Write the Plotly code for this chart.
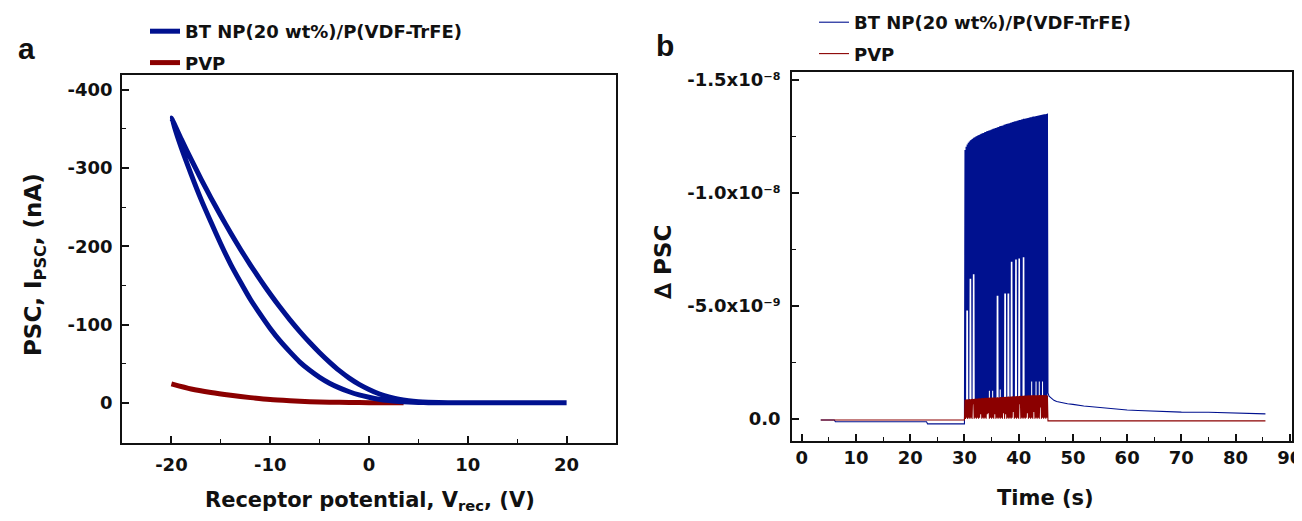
import numpy as np
import plotly.graph_objects as go

FONT = "DejaVu Sans, Liberation Sans, Arial, sans-serif"
LETTER_FONT = "Liberation Sans, Arial, sans-serif"
BLUE = "#00118f"
RED = "#8b0000"
INK = "#111111"

# ---------------- Panel a : PSC vs receptor potential ----------------
# BT NP(20 wt%)/P(VDF-TrFE): sweep -20 -> +20 V (outer branch)
bt_up_v = [-20, -19, -18, -17, -16, -15, -14, -13, -12, -11, -10, -9, -8, -7, -6, -5,
           -4, -3, -2, -1, 0, 1, 2, 3, 4, 5, 6, 8, 12, 16, 20]
bt_up_i = [-364, -337, -311, -286, -262, -239, -217, -196, -176, -157, -139, -122, -106, -91, -77, -64,
           -52, -41, -31.5, -23.5, -17, -11.5, -7.5, -4.5, -2.5, -1.2, -0.5, 0, 0, 0, 0]
# sweep +20 -> -20 V (inner branch)
bt_dn_v = [20, 16, 12, 8, 6, 5, 4, 3, 2, 1, 0, -1, -2, -3, -4, -5, -6, -7, -8, -9,
           -10, -11, -12, -13, -14, -15, -16, -17, -18, -19, -20]
bt_dn_i = [0, 0, 0, 0, 0, -0.3, -0.8, -1.6, -2.8, -4.5, -7, -10, -14, -19, -25, -32.5, -41.5, -52, -65, -79,
           -95, -113, -132, -154, -177, -203, -231, -260, -292, -326, -364]

# PVP
pvp_v = [-20, -18, -16, -14, -12, -10, -8, -6, -4, -2, 0, 2, 3.5]
pvp_i = [-24, -17.5, -13, -9.5, -6.5, -4.0, -2.5, -1.3, -0.7, -0.3, 0.0, 0.0, 0.0]

x_ticks_a = [-20, -10, 0, 10, 20]
x_ticktext_a = ["-20", "-10", "0", "10", "20"]
y_ticks_a = [-400, -300, -200, -100, 0]
y_ticktext_a = ["-400", "-300", "-200", "-100", "0"]

# ---------------- Panel b : delta PSC vs time (values in 1e-9 A) ----------------
bt_pre_t = [3.5, 6.0, 6.2, 23.0, 23.2, 29.9]
bt_pre_v = [0.05, 0.05, 0.13, 0.13, 0.22, 0.22]

pulse_t = [30.0, 30.2, 30.4, 30.6, 30.8, 31.0, 31.2, 31.4, 31.6, 31.8,
           32.0, 32.2, 32.4, 32.6, 32.8, 33.0, 33.2, 33.4, 33.6, 33.8,
           34.0, 34.2, 34.4, 34.6, 34.8, 35.0, 35.2, 35.4, 35.6, 35.8,
           36.0, 36.2, 36.4, 36.6, 36.8, 37.0, 37.2, 37.4, 37.6, 37.8,
           38.0, 38.2, 38.4, 38.6, 38.8, 39.0, 39.2, 39.4, 39.6, 39.8,
           40.0, 40.2, 40.4, 40.6, 40.8, 41.0, 41.2, 41.4, 41.6, 41.8,
           42.0, 42.2, 42.4, 42.6, 42.8, 43.0, 43.2, 43.4, 43.6, 43.8,
           44.0, 44.2, 44.4, 44.6, 44.8, 45.0, 45.2]
PULSE_HALF = 0.1

bt_peak = [-11.90, -12.05, -12.15, -12.22, -12.28, -12.33, -12.37, -12.40, -12.44, -12.47,
           -12.50, -12.52, -12.55, -12.57, -12.60, -12.62, -12.64, -12.66, -12.69, -12.70,
           -12.73, -12.74, -12.77, -12.78, -12.80, -12.82, -12.84, -12.85, -12.88, -12.89,
           -12.91, -12.92, -12.95, -12.96, -12.98, -12.99, -13.02, -13.03, -13.05, -13.06,
           -13.08, -13.09, -13.11, -13.12, -13.14, -13.15, -13.17, -13.18, -13.20, -13.21,
           -13.23, -13.23, -13.25, -13.26, -13.28, -13.28, -13.30, -13.31, -13.32, -13.33,
           -13.35, -13.35, -13.37, -13.38, -13.39, -13.40, -13.41, -13.42, -13.43, -13.44,
           -13.45, -13.46, -13.47, -13.48, -13.49, -13.50, -13.52]
bt_min = [0.22, -0.75, -4.80, -4.80, -0.75, -6.20, -6.20, -0.75, -6.40, -6.40,
          -0.75, -0.75, -0.75, -0.75, -0.75, -0.75, -0.75, -0.75, -0.75, -0.75,
          -0.75, -0.75, -0.75, -1.25, -0.75, -0.75, -1.25, -0.75, -0.75, -0.75,
          -5.45, -5.45, -0.75, -1.30, -0.75, -0.75, -0.75, -5.55, -5.55, -0.75,
          -5.55, -5.55, -0.75, -6.95, -6.95, -0.75, -0.75, -7.05, -7.05, -0.75,
          -7.10, -7.10, -0.75, -0.75, -7.15, -7.15, -0.75, -0.75, -0.75, -0.75,
          -0.75, -0.75, -1.65, -0.75, -0.75, -0.75, -1.65, -0.75, -0.75, -1.65,
          -0.75, -0.75, -1.65, -0.75, -0.75, -0.75, -0.75]

bt_post_t = [45.4, 45.6, 46.0, 46.5, 47.0, 48.0, 49.0, 50.0, 52.0, 55.0, 58.0, 60.0,
             62.0, 65.0, 68.0, 70.0, 75.0, 77.5, 78.0, 80.0, 85.5]
bt_post_v = [-1.15, -1.0, -0.9, -0.82, -0.77, -0.71, -0.67, -0.64, -0.57, -0.50, -0.43, -0.39,
             -0.37, -0.34, -0.31, -0.30, -0.29, -0.28, -0.25, -0.24, -0.22]

pvp_pre_t = [3.5, 29.9]
pvp_pre_v = [0.05, 0.05]
pvp_peak = [-0.85, -0.86, -0.87, -0.86, -0.88, -0.87, -0.88, -0.89, -0.88, -0.89,
            -0.90, -0.89, -0.90, -0.91, -0.90, -0.91, -0.92, -0.91, -0.92, -0.93,
            -0.92, -0.93, -0.93, -0.94, -0.93, -0.94, -0.95, -0.94, -0.95, -0.95,
            -0.96, -0.95, -0.96, -0.97, -0.96, -0.97, -0.97, -0.98, -0.97, -0.98,
            -0.99, -0.98, -0.99, -0.99, -1.00, -0.99, -1.00, -1.00, -1.01, -1.00,
            -1.01, -1.02, -1.01, -1.02, -1.02, -1.03, -1.02, -1.03, -1.03, -1.04,
            -1.03, -1.04, -1.04, -1.05, -1.04, -1.05, -1.05, -1.04, -1.05, -1.06,
            -1.05, -1.06, -1.05, -1.06, -1.05, -1.04, -1.03]
pvp_min = [0.05, 0.0, -0.05, 0.0, -0.05, 0.0, -0.05, 0.0, -0.65, 0.0,
           -0.05, 0.0, -0.05, 0.0, -0.05, -0.20, 0.0, -0.05, 0.0, -0.05,
           0.0, -0.20, -0.25, 0.0, -0.05, 0.0, -0.05, 0.0, -0.20, 0.0,
           -0.05, 0.0, -0.05, 0.0, -0.05, 0.0, -0.25, 0.0, -0.20, 0.0,
           -0.05, 0.0, -0.05, 0.0, -0.05, -0.30, 0.0, -0.05, 0.0, -0.05,
           0.0, -0.65, 0.0, -0.05, 0.0, -0.05, 0.0, -0.05, -0.25, 0.0,
           -0.05, 0.0, -0.05, 0.0, -0.30, 0.0, -0.05, 0.0, -0.05, 0.0,
           -0.50, 0.0, -0.05, 0.0, -0.05, 0.0, -0.05]
pvp_post_t = [45.4, 85.5]
pvp_post_v = [0.09, 0.09]

x_ticks_b = [0, 10, 20, 30, 40, 50, 60, 70, 80, 90]
y_ticks_b = [-15.0, -10.0, -5.0, 0.0]
y_ticktext_b = ["-1.5x10\u207b\u2078", "-1.0x10\u207b\u2078", "-5.0x10\u207b\u2079", "0.0"]
NANO = 1e-9


def zigzag(times, mins, peaks):
    xs, ys = [], []
    for t, lo, hi in zip(times, mins, peaks):
        xs += [t, t + PULSE_HALF]
        ys += [lo, hi]
    return xs, ys


bx, by = zigzag(pulse_t, bt_min, bt_peak)
blue_t = bt_pre_t + bx + bt_post_t
blue_y = np.array(bt_pre_v + by + bt_post_v) * NANO
rx, ry = zigzag(pulse_t, pvp_min, pvp_peak)
red_t = pvp_pre_t + rx + pvp_post_t
red_y = np.array(pvp_pre_v + ry + pvp_post_v) * NANO

# page has an 8 px body margin: figure is 1294x513, placed at (8, 8) in the window
OFF = 8
W, H = 1302 - OFF, 521 - OFF


def px(x):
    return (x - OFF) / W


def py(y):
    return 1 - (y - OFF) / H


fig = go.Figure()
fig.add_trace(go.Scatter(x=pvp_v, y=pvp_i, mode="lines", name="PVP",
                         line=dict(color=RED, width=5, shape="spline", smoothing=0.6),
                         legend="legend", legendrank=2, legendgroup="a2",
                         xaxis="x", yaxis="y"))
fig.add_trace(go.Scatter(x=bt_up_v + bt_dn_v, y=bt_up_i + bt_dn_i, mode="lines",
                         name="BT NP(20 wt%)/P(VDF-TrFE)",
                         line=dict(color=BLUE, width=5, shape="spline", smoothing=0.6),
                         legend="legend", legendrank=1, legendgroup="a1",
                         xaxis="x", yaxis="y"))
fig.add_trace(go.Scatter(x=blue_t, y=blue_y, mode="lines",
                         name="BT NP(20 wt%)/P(VDF-TrFE)",
                         line=dict(color=BLUE, width=1.1),
                         legend="legend2", legendrank=1, legendgroup="b1",
                         xaxis="x2", yaxis="y2"))
fig.add_trace(go.Scatter(x=red_t, y=red_y, mode="lines", name="PVP",
                         line=dict(color=RED, width=1.1),
                         legend="legend2", legendrank=2, legendgroup="b2",
                         xaxis="x2", yaxis="y2"))

tickfont = dict(family=FONT, size=18, color=INK, weight="bold")
axis_common = dict(showline=True, mirror=True, linecolor=INK, linewidth=1.6,
                   ticks="inside", ticklen=7, tickwidth=1.6, tickcolor=INK,
                   showgrid=False, zeroline=False, tickfont=tickfont, automargin=False,
                   ticklabeloverflow="allow")
minor_common = dict(ticks="inside", ticklen=4, tickwidth=1.4, tickcolor=INK, showgrid=False)
title_font = dict(family=FONT, size=21, color=INK, weight="bold")
ytitle_font = dict(family=FONT, size=23, color=INK, weight="bold")
legend_font = dict(family=FONT, size=18, color=INK, weight="bold")
letter_font = dict(family=LETTER_FONT, size=30, color=INK, weight="bold")

fig.update_layout(
    width=W, height=H,
    margin=dict(l=0, r=0, t=0, b=0, autoexpand=False),
    paper_bgcolor="white", plot_bgcolor="white",
    font=dict(family=FONT, color=INK),
    xaxis=dict(domain=[px(122), px(616)], range=[-25, 25], anchor="y",
               tickmode="array", tickvals=x_ticks_a, ticktext=x_ticktext_a, ticklabelstandoff=5,
               minor=dict(tickmode="array", tickvals=[-15, -5, 5, 15], **minor_common),
               **axis_common),
    yaxis=dict(domain=[py(443), py(75)], range=[51.5, -419], anchor="x",
               tickmode="array", tickvals=y_ticks_a, ticktext=y_ticktext_a, ticklabelstandoff=4,
               minor=dict(tickmode="array", tickvals=[-350, -250, -150, -50], **minor_common),
               **axis_common),
    xaxis2=dict(domain=[px(792), px(1292)], range=[-1.8, 90.4], anchor="y2",
                tickmode="array", tickvals=x_ticks_b, ticklabelstandoff=0,
                minor=dict(tickmode="array", tickvals=[5, 15, 25, 35, 45, 55, 65, 75, 85], **minor_common),
                **axis_common),
    yaxis2=dict(domain=[py(441), py(72)], range=[0.98e-9, -15.355e-9], anchor="x2",
                tickmode="array", tickvals=[v * NANO for v in y_ticks_b], ticktext=y_ticktext_b,
                ticklabelstandoff=6,
                minor=dict(tickmode="array", tickvals=[-12.5e-9, -7.5e-9, -2.5e-9], **minor_common),
                **axis_common),
    legend=dict(x=px(145), y=py(13), xanchor="left", yanchor="top",
                bgcolor="rgba(0,0,0,0)", traceorder="grouped", tracegroupgap=5,
                font=legend_font),
    legend2=dict(x=px(814), y=py(4), xanchor="left", yanchor="top",
                 bgcolor="rgba(0,0,0,0)", traceorder="grouped", tracegroupgap=5,
                 font=legend_font),
    annotations=[
        dict(text="a", x=px(26), y=py(48), xref="paper", yref="paper", xanchor="center", yanchor="middle",
             showarrow=False, font=letter_font),
        dict(text="b", x=px(665), y=py(45), xref="paper", yref="paper", xanchor="center", yanchor="middle",
             showarrow=False, font=letter_font),
        dict(text="Receptor potential, V<sub>rec</sub>, (V)", x=px(370), y=py(501),
             xref="paper", yref="paper", xanchor="center", yanchor="middle", showarrow=False,
             font=title_font),
        dict(text="PSC, I<sub>PSC</sub>, (nA)", x=px(35), y=py(265), textangle=-90,
             xref="paper", yref="paper", xanchor="center", yanchor="middle", showarrow=False,
             font=ytitle_font),
        dict(text="Time (s)", x=px(1045), y=py(498),
             xref="paper", yref="paper", xanchor="center", yanchor="middle", showarrow=False,
             font=title_font),
        dict(text="∆ PSC", x=px(663), y=py(262), textangle=-90,
             xref="paper", yref="paper", xanchor="center", yanchor="middle", showarrow=False,
             font=ytitle_font),
    ],
)

fig.write_html("out.html")
